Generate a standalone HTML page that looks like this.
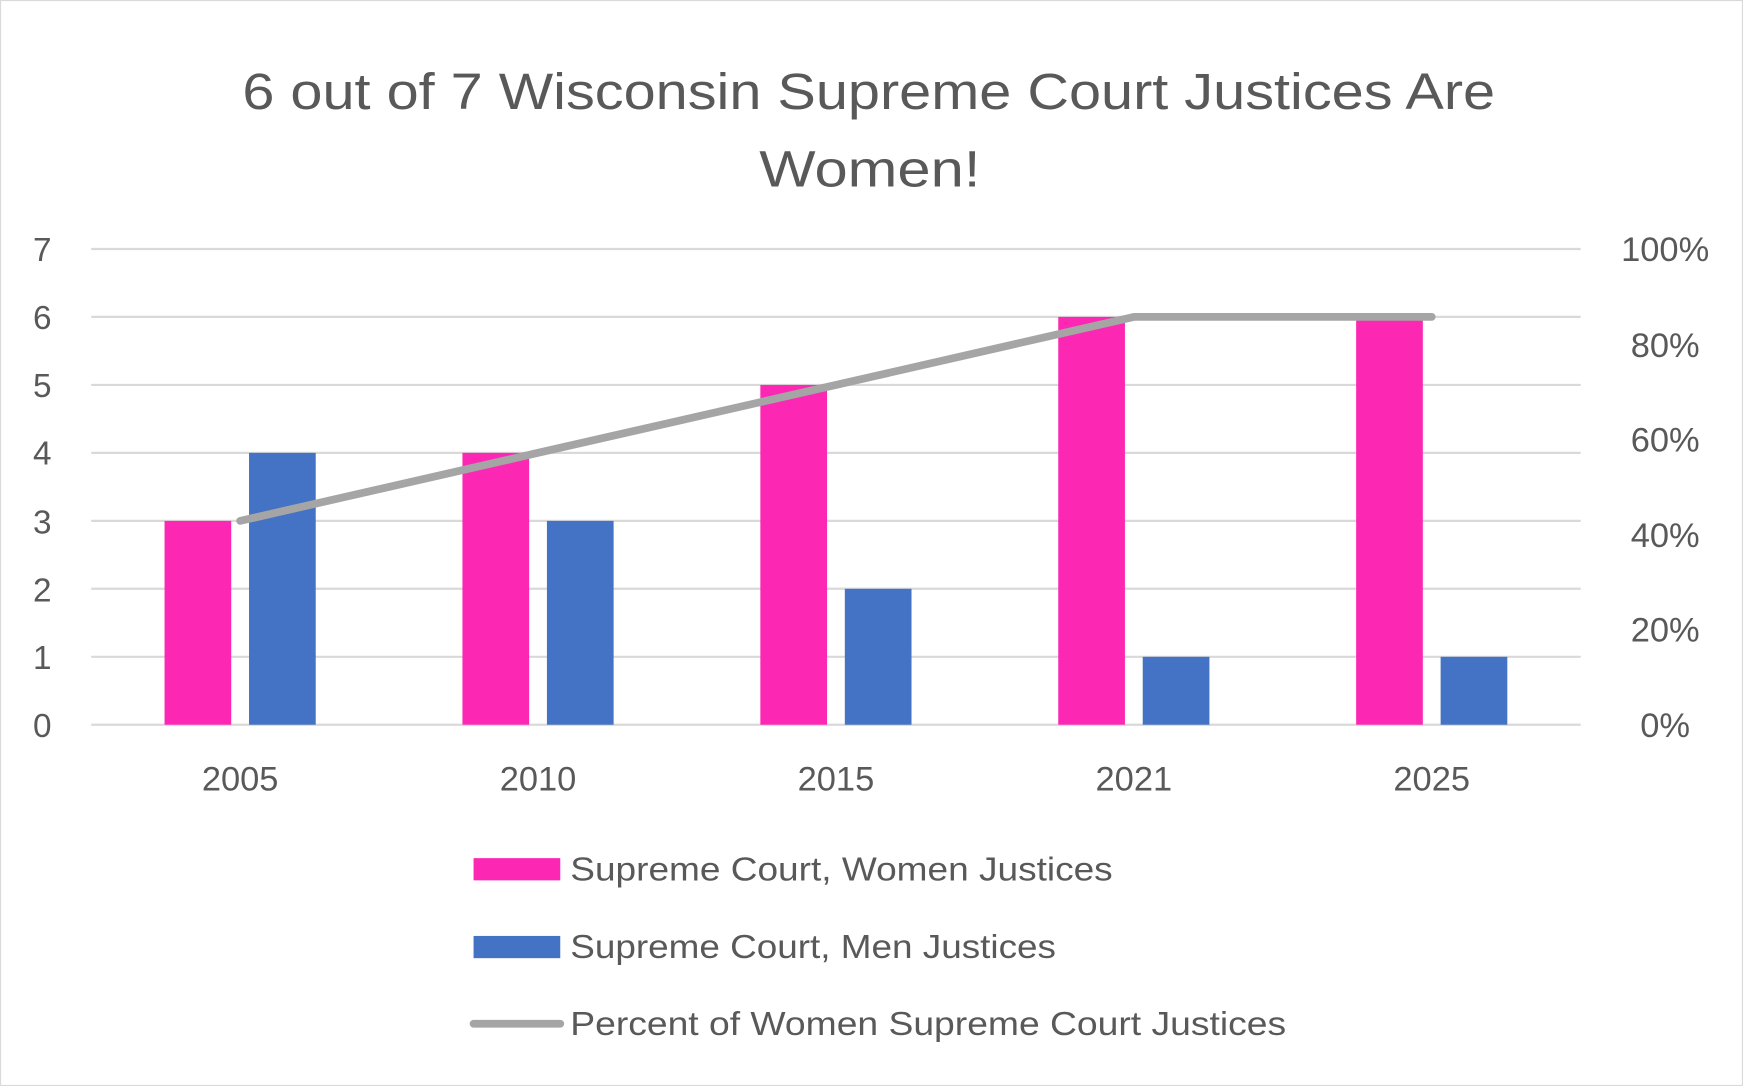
<!DOCTYPE html>
<html><head><meta charset="utf-8"><style>
html,body{margin:0;padding:0;background:#fff}
svg{display:block}
text{font-family:"Liberation Sans",sans-serif;fill:#595959}
</style></head><body>
<svg width="1743" height="1086" viewBox="0 0 1568 977" xmlns="http://www.w3.org/2000/svg">
<rect x="0.5" y="0.5" width="1567" height="976" fill="#fff" stroke="#d9d9d9"/>
<text x="218" y="98" font-size="46" textLength="1127" lengthAdjust="spacingAndGlyphs">6 out of 7 Wisconsin Supreme Court Justices Are</text>
<text x="683" y="168" font-size="46" textLength="199" lengthAdjust="spacingAndGlyphs">Women!</text>
<g stroke="#d9d9d9" stroke-width="2">
<line x1="82" x2="1422" y1="224" y2="224"/>
<line x1="82" x2="1422" y1="285.1" y2="285.1"/>
<line x1="82" x2="1422" y1="346.3" y2="346.3"/>
<line x1="82" x2="1422" y1="407.4" y2="407.4"/>
<line x1="82" x2="1422" y1="468.6" y2="468.6"/>
<line x1="82" x2="1422" y1="529.7" y2="529.7"/>
<line x1="82" x2="1422" y1="590.9" y2="590.9"/>
<line x1="82" x2="1422" y1="652" y2="652"/>
</g>
<g font-size="30" text-anchor="middle">
<text x="38" y="235">7</text><text x="38" y="296">6</text><text x="38" y="357">5</text><text x="38" y="418">4</text>
<text x="38" y="480">3</text><text x="38" y="541">2</text><text x="38" y="602">1</text><text x="38" y="663">0</text>
</g>
<g font-size="31" text-anchor="middle">
<text x="1498" y="235">100%</text><text x="1498" y="321">80%</text><text x="1498" y="406">60%</text>
<text x="1498" y="492">40%</text><text x="1498" y="577">20%</text><text x="1498" y="663">0%</text>
</g>
<g fill="#fc28b4">
<rect x="148" y="468.6" width="60" height="183.4"/>
<rect x="416" y="407.4" width="60" height="244.6"/>
<rect x="684" y="346.3" width="60" height="305.7"/>
<rect x="952" y="285.1" width="60" height="366.9"/>
<rect x="1220" y="285.1" width="60" height="366.9"/>
</g>
<g fill="#4472c4">
<rect x="224" y="407.4" width="60" height="244.6"/>
<rect x="492" y="468.6" width="60" height="183.4"/>
<rect x="760" y="529.7" width="60" height="122.3"/>
<rect x="1028" y="590.9" width="60" height="61.1"/>
<rect x="1296" y="590.9" width="60" height="61.1"/>
</g>
<polyline points="216,468.6 484,407.4 752,346.3 1020,285.1 1288,285.1" fill="none" stroke="#a5a5a5" stroke-width="7" stroke-linecap="round" stroke-linejoin="round"/>
<g font-size="31" text-anchor="middle">
<text x="216" y="711">2005</text><text x="484" y="711">2010</text><text x="752" y="711">2015</text>
<text x="1020" y="711">2021</text><text x="1288" y="711">2025</text>
</g>
<rect x="426" y="772" width="78" height="20" fill="#fc28b4"/>
<text x="513" y="792" font-size="30" textLength="488" lengthAdjust="spacingAndGlyphs">Supreme Court, Women Justices</text>
<rect x="426" y="842" width="78" height="20" fill="#4472c4"/>
<text x="513" y="862" font-size="30" textLength="437" lengthAdjust="spacingAndGlyphs">Supreme Court, Men Justices</text>
<line x1="426" x2="504" y1="921" y2="921" stroke="#a5a5a5" stroke-width="7" stroke-linecap="round"/>
<text x="513" y="931" font-size="30" textLength="644" lengthAdjust="spacingAndGlyphs">Percent of Women Supreme Court Justices</text>
</svg>
</body></html>
